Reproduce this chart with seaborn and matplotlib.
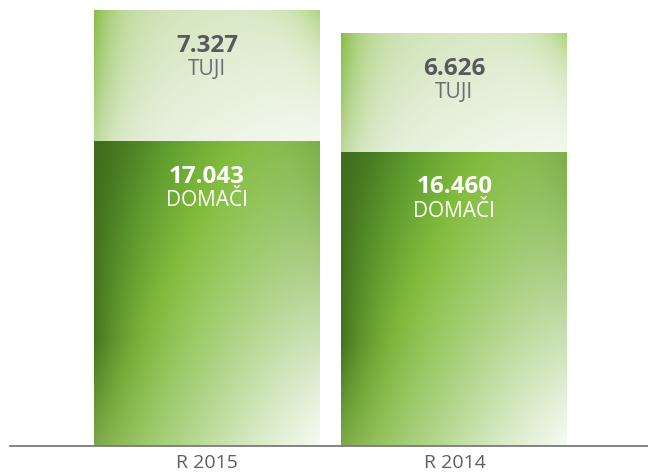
import numpy as np
import pandas as pd
import matplotlib
matplotlib.use("Agg")
import matplotlib.pyplot as plt
import seaborn as sns
from matplotlib.colors import to_rgb

# podatki
leta = ["R 2015", "R 2014"]
domaci = [17.043, 16.460]
tuji = [7.327, 6.626]
oznaka_domaci = "DOMAČI"
oznaka_tuji = "TUJI"

df = pd.DataFrame({"leto": leta, "domaci": domaci, "tuji": tuji})
df["skupaj"] = df["domaci"] + df["tuji"]

sns.set_theme(style="white")
plt.rcParams["font.family"] = ["Open Sans", "DejaVu Sans"]


def mix(a, b, w):
    w = w[..., None]
    return a * (1 - w) + np.array(to_rgb(b)) * w


def ramp(d, stops):
    pos = [s[0] for s in stops]
    cols = np.array([to_rgb(s[1]) for s in stops])
    out = np.zeros(d.shape + (3,))
    for k in range(3):
        out[..., k] = np.interp(d, pos, cols[:, k])
    return out


def grad_domaci(n=220):
    u, v = np.meshgrid(np.linspace(0, 1, n), np.linspace(0, 1, n))
    d = 0.6 * u + 0.4 * (1 - v)
    img = ramp(d, [(0, "#3f6d1d"), (0.2, "#60a02f"), (0.38, "#87c23f"),
                   (0.62, "#b0d688"), (0.82, "#d8eac6"), (1, "#f7faf3")])
    img = mix(img, "#6f8f52", 0.55 * np.exp(-u / 0.14) * np.clip(1 - v / 0.45, 0, 1))
    img = mix(img, "#3e6a1c", 0.85 * np.exp(-u / 0.13) * np.clip(v / 0.35, 0, 1))
    img = mix(img, "#72a83a", 0.85 * np.exp(-(1 - u) / 0.3) * v ** 1.5)
    return img


def grad_tuji(n=220):
    u, v = np.meshgrid(np.linspace(0, 1, n), np.linspace(0, 1, n))
    d = 0.5 * u + 0.5 * (1 - v)
    img = ramp(d, [(0, "#cde2b2"), (0.5, "#e3eed7"), (1, "#f6f9f1")])
    img = mix(img, "#80b83b", 0.9 * np.exp(-u / 0.1) * (0.45 + 0.55 * v))
    img = mix(img, "#9ccb5d", 0.8 * np.exp(-(1 - u) / 0.12) * np.exp(-(1 - v) / 0.3))
    return img


fig = plt.figure(figsize=(6.48, 4.74), dpi=100)
ax = fig.add_axes([10 / 648, 28 / 474, 638 / 648, 446 / 474])

sns.barplot(data=df, x="leto", y="skupaj", order=leta, width=0.913,
            color="#d9e9c6", saturation=1, errorbar=None, ax=ax)
sns.barplot(data=df, x="leto", y="domaci", order=leta, width=0.913,
            color="#6fa63c", saturation=1, errorbar=None, ax=ax)

n = len(leta)
skupaj_p = ax.patches[:n]
domaci_p = ax.patches[n:2 * n]

for i in range(n):
    pt, pd_ = skupaj_p[i], domaci_p[i]
    x0, w = pd_.get_x(), pd_.get_width()
    xc = x0 + w / 2
    for p in (pt, pd_):
        p.set_edgecolor("none")
        p.set_linewidth(0)
    # gradient za tuje (zgornji del)
    im = ax.imshow(grad_tuji(), origin="lower", aspect="auto", interpolation="bilinear",
                   extent=[x0, x0 + w, pd_.get_height(), pt.get_height()], zorder=3)
    im.set_clip_path(pt)
    im = ax.imshow(grad_domaci(), origin="lower", aspect="auto", interpolation="bilinear",
                   extent=[x0, x0 + w, 0, pd_.get_height()], zorder=3)
    im.set_clip_path(pd_)

    ax.annotate(f"{tuji[i]:.3f}", (xc, pt.get_height()), xytext=(0, -30),
                textcoords="offset points", ha="center", va="baseline",
                fontsize=17.5, fontweight="bold", color="#58595b", zorder=5)
    ax.annotate(oznaka_tuji, (xc, pt.get_height()), xytext=(0, -46.5),
                textcoords="offset points", ha="center", va="baseline",
                fontsize=15, color="#6d6e71", zorder=5)
    ax.annotate(f"{domaci[i]:.3f}", (xc, pd_.get_height()), xytext=(0, -30),
                textcoords="offset points", ha="center", va="baseline",
                fontsize=17.5, fontweight="bold", color="white", zorder=5)
    ax.annotate(oznaka_domaci, (xc, pd_.get_height()), xytext=(0, -47),
                textcoords="offset points", ha="center", va="baseline",
                fontsize=15, color="white", zorder=5)

ax.set_xlim(-0.796, 1.782)
ax.set_ylim(0, df["skupaj"].max() * 1.023)
ax.set_xlabel("")
ax.set_ylabel("")
ax.set_yticks([])
for s in ["top", "right", "left"]:
    ax.spines[s].set_visible(False)
ax.spines["bottom"].set_color("#7a7a7a")
ax.spines["bottom"].set_linewidth(1.3)
ax.spines["bottom"].set_zorder(6)
ax.tick_params(axis="x", length=0, pad=6, labelsize=14, labelcolor="#5f5f5f")

fig.savefig("out.png", dpi=100)
